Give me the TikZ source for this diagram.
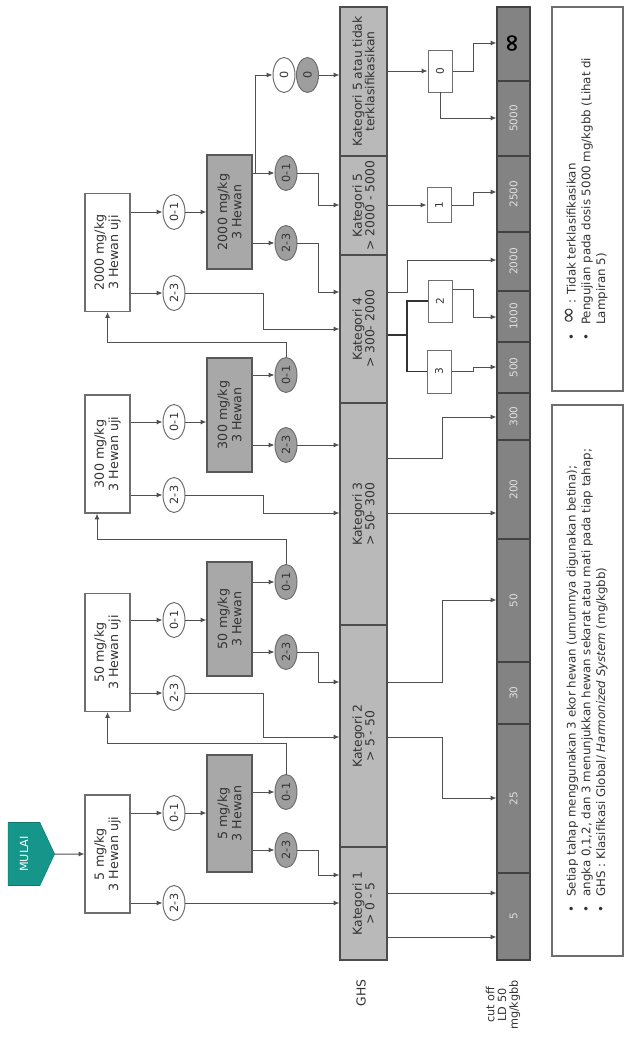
\documentclass[tikz,border=0pt]{standalone}
\usepackage{fontspec}
\setmainfont{DejaVu Sans}
\usetikzlibrary{arrows.meta,shapes.geometric,shapes.symbols}
\definecolor{lc}{HTML}{505050}
\definecolor{bordc}{HTML}{6E6E6E}
\definecolor{txtc}{HTML}{333333}
\definecolor{boxgray}{HTML}{A8A8A8}
\definecolor{elgray}{HTML}{9E9E9E}
\definecolor{ghsgray}{HTML}{B9B9B9}
\definecolor{ldgray}{HTML}{838383}
\definecolor{tealc}{HTML}{16968A}
\begin{document}
\begin{tikzpicture}[x=0.025cm,y=-0.025cm,
  ln/.style={draw=lc, line width=0.7pt},
  arr/.style={ln, -{Latex[length=4.2pt,width=3.6pt]}},
  brk/.style={draw=black!80, line width=1.4pt},
  segl/.style={minimum width=#1*0.025cm},
  start/.style={signal, signal to=south, signal pointer angle=130, fill=tealc, draw=tealc!80!black, rotate=90, minimum width=1.575cm, minimum height=1.0cm, inner sep=0pt, text=white, font=\fontsize{8}{8}\selectfont},
  wbox/.style={rectangle, draw=bordc, line width=0.8pt, fill=white, rotate=90, minimum width=2.95cm, minimum height=1.125cm, align=center, inner sep=1pt, text=txtc, font=\fontsize{9}{10}\selectfont},
  gbox/.style={wbox, fill=boxgray, draw=bordc!80!black},
  wel/.style={ellipse, draw=bordc, line width=0.7pt, fill=white, rotate=90, minimum width=0.875cm, minimum height=0.55cm, inner sep=0pt, text=txtc, font=\fontsize{8}{8}\selectfont},
  gel/.style={wel, fill=elgray},
  ghs/.style={rectangle, draw=bordc!70!black, line width=0.8pt, fill=ghsgray, rotate=90, minimum height=1.175cm, align=center, inner sep=0pt, text=txtc, font=\fontsize{8.8}{9}\selectfont},
  ld/.style={rectangle, draw=bordc!60!black, line width=0.8pt, fill=ldgray, rotate=90, minimum height=0.825cm, inner sep=0pt, text=white!88!black, font=\fontsize{7.5}{8}\selectfont},
  rbox/.style={rectangle, draw=bordc, line width=0.7pt, fill=white, rotate=90, minimum height=0.6cm, inner sep=0pt, text=txtc, font=\fontsize{7.5}{8}\selectfont},
  lgd/.style={rectangle, draw=bordc, line width=0.8pt, fill=white, rotate=90, minimum height=1.775cm, inner sep=0pt, text=txtc, font=\fontsize{8.4}{10.5}\selectfont},
  lab/.style={rotate=90, text=txtc, align=center, inner sep=0pt}
]
\fill[white] (0,0) rectangle (626,1037);
\useasboundingbox (0,0) rectangle (626,1037);

% start
\node[start] (mulai) at (24,854) {MULAI};

% white boxes
\node[wbox] (b5) at (107.5,854) {5 mg/kg\\3 Hewan uji};
\node[wbox] (b50) at (107.5,652.5) {50 mg/kg\\3 Hewan uji};
\node[wbox] (b300) at (107.5,454) {300 mg/kg\\3 Hewan uji};
\node[wbox] (b2000) at (107.5,252.5) {2000 mg/kg\\3 Hewan uji};

% white ellipses
\node[wel] (e5a) at (174,813) {0-1};
\node[wel] (e5b) at (174,903) {2-3};
\node[wel] (e50a) at (174,620) {0-1};
\node[wel] (e50b) at (174,693) {2-3};
\node[wel] (e300a) at (174,422) {0-1};
\node[wel] (e300b) at (174,495) {2-3};
\node[wel] (e2000a) at (174,212) {0-1};
\node[wel] (e2000b) at (174,293) {2-3};

% gray boxes
\node[gbox, segl=117] (g5) at (229.5,813.5) {5 mg/kg\\3 Hewan};
\node[gbox, segl=114] (g50) at (229.5,619) {50 mg/kg\\3 Hewan};
\node[gbox, segl=114] (g300) at (229.5,415) {300 mg/kg\\3 Hewan};
\node[gbox, segl=114] (g2000) at (229.5,212) {2000 mg/kg\\3 Hewan};

% gray ellipses
\node[gel] (f5a) at (286,792) {0-1};
\node[gel] (f5b) at (286,850) {2-3};
\node[gel] (f50a) at (286,582) {0-1};
\node[gel] (f50b) at (286,652) {2-3};
\node[gel] (f300a) at (286,375) {0-1};
\node[gel] (f300b) at (286,445) {2-3};
\node[gel] (f2000a) at (286,173) {0-1};
\node[gel] (f2000b) at (286,243) {2-3};
\node[wel] (z0w) at (284,75) {0};
\node[gel] (z0g) at (307.5,75) {0};

% GHS bar
\node[ghs, segl=149] (k5t) at (363.5,81.5) {Kategori 5 atau tidak\\terklasifikasikan};
\node[ghs, segl=99] (k5) at (363.5,205.5) {Kategori 5\\> 2000 - 5000};
\node[ghs, segl=148] (k4) at (363.5,329) {Kategori 4\\> 300- 2000};
\node[ghs, segl=222] (k3) at (363.5,514) {Kategori 3\\> 50- 300};
\node[ghs, segl=222] (k2) at (363.5,736) {Kategori 2\\> 5 - 50};
\node[ghs, segl=113] (k1) at (363.5,903.5) {Kategori 1\\> 0 - 5};

% LD50 bar
\node[ld, segl=74, text=black, font=\fontsize{17}{17}\selectfont\bfseries] (linf) at (513.5,44) {∞};
\node[ld, segl=75] (l5000) at (513.5,118.5) {5000};
\node[ld, segl=76] (l2500) at (513.5,194) {2500};
\node[ld, segl=59] (l2000) at (513.5,261.5) {2000};
\node[ld, segl=51] (l1000) at (513.5,316.5) {1000};
\node[ld, segl=51] (l500) at (513.5,367.5) {500};
\node[ld, segl=47] (l300) at (513.5,416.5) {300};
\node[ld, segl=99] (l200) at (513.5,489.5) {200};
\node[ld, segl=123] (l50) at (513.5,600.5) {50};
\node[ld, segl=62] (l30) at (513.5,693) {30};
\node[ld, segl=149] (l25) at (513.5,798.5) {25};
\node[ld, segl=87] (l5) at (513.5,916.5) {5};

% small result boxes
\node[rbox, segl=42] (r0) at (440,71) {0};
\node[rbox, segl=35] (r1) at (439,205) {1};
\node[rbox, segl=42] (r2) at (440,301) {2};
\node[rbox, segl=43] (r3) at (439,371.5) {3};

% labels
\node[lab, font=\fontsize{8.8}{9}\selectfont] (ghslab) at (361,993) {GHS};
\node[lab, font=\fontsize{8}{8.3}\selectfont] (ldlab) at (503,1005) {cut off\\LD 50\\mg/kgbb};

% legends
\node[lgd, segl=551] (leg1) at (587.5,680.5) {\begin{tabular}{@{}l@{\hspace{6pt}}l@{}}
\textbullet & Setiap tahap menggunakan 3 ekor hewan (umumnya digunakan betina);\\
\textbullet & angka 0,1,2, dan 3 menunjukkan hewan sekarat atau mati pada tiap tahap;\\
\textbullet & GHS : Klasifikasi Global/ \textit{Harmonized System} (mg/kgbb)
\end{tabular}};
\node[lgd, segl=384] (leg2) at (587.5,199) {\begin{tabular}{@{}l@{\hspace{6pt}}l@{}}
\textbullet & {\fontsize{15}{10}\selectfont ∞} : Tidak terklasifikasikan\\
\textbullet & Pengujian pada dosis 5000 mg/kgbb (Lihat di\\
 & Lampiran 5)
\end{tabular}};

% connectors: start and boxes
\draw[arr] (mulai) -- (b5);
\foreach \b/\p/\q in {b5/e5a/e5b, b50/e50a/e50b, b300/e300a/e300b, b2000/e2000a/e2000b}{
  \draw[arr] (\b.south |- \p) -- (\p);
  \draw[arr] (\b.south |- \q) -- (\q);
}
\foreach \p/\g in {e5a/g5, e50a/g50, e300a/g300, e2000a/g2000}{
  \draw[arr] (\p) -- (\g.north |- \p);
}
\foreach \g/\p/\q in {g5/f5a/f5b, g50/f50a/f50b, g300/f300a/f300b, g2000/f2000a/f2000b}{
  \draw[arr] (\g.south |- \p) -- (\p);
  \draw[arr] (\g.south |- \q) -- (\q);
}
% feedback to next dose
\draw[arr] (f5a) -- (286,743) -| (b50.west);
\draw[arr] (f50a) -- (286,539) -| (b300.west -| 97,0);
\draw[arr] (f300a) -- (286,342) -| (b2000.west);
\draw[arr] (g2000.south |- f2000a) -- (255,173) |- (z0w);

% to GHS
\draw[arr] (e5b) -- (k1.north |- e5b);
\draw[arr] (f5b) -- (318,850) |- (k1.north |- 0,875);
\draw[arr] (f50b) -- (318,652) |- (k2.north |- 0,682);
\draw[arr] (e50b) -- (263,693) |- (k2.north |- 0,737);
\draw[arr] (f300b) -- (k3.north |- f300b);
\draw[arr] (e300b) -- (263,495) |- (k3.north |- 0,513);
\draw[arr] (f2000a) -- (318,173) |- (k5.north |- 0,205);
\draw[arr] (f2000b) -- (318,243) |- (k4.north |- 0,292);
\draw[arr] (e2000b) -- (263,293) |- (k4.north |- 0,329);
\draw[arr] (z0g) -- (k5t.north |- z0g);

% GHS to LD50
\draw[arr] (k1.south |- 0,893) -- (l5.north |- 0,893);
\draw[arr] (k1.south |- 0,937) -- (l5.north |- 0,937);
\draw[arr] (k2.south |- 0,737) -- (442,737) |- (l25.north |- 0,798);
\draw[arr] (k2.south |- 0,682) -- (442,682) |- (l50.north |- 0,600);
\draw[arr] (k3.south |- 0,513) -- (l200.north |- 0,513);
\draw[arr] (k3.south |- 0,458) -- (442,458) |- (l300.north |- 0,417);
\draw[arr] (k4.south |- 0,292) -- (407,292) |- (l2000.north |- 0,260);
\draw[brk] (k4.south |- 0,335) -- (407,335);
\draw[brk] (407,335) |- (r2);
\draw[brk] (407,335) |- (r3);
\draw[arr] (r2.south |- 0,289) -- (473,289) |- (l1000.north |- 0,317);
\draw[arr] (r3.south) -- (473,371.5) |- (l500.north |- 0,367);
\draw[arr] (k5.south |- r1) -- (r1);
\draw[arr] (r1.south) -- (473,205) |- (l2500.north |- 0,192);
\draw[arr] (k5t.south |- r0) -- (r0);
\draw[arr] (r0.south) -- (473,71) |- (linf.north |- 0,43);
\draw[arr] (r0.west) |- (l5000.north |- 0,118);
\end{tikzpicture}
\end{document}
